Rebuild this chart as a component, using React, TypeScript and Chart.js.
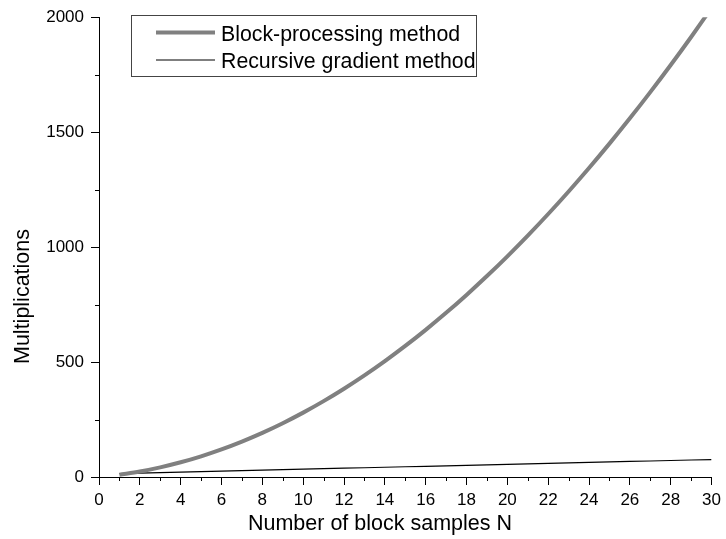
import React, { useEffect, useRef } from 'react';
import { Chart, registerables } from 'chart.js';

Chart.register(...registerables);

const samplesN = [1, 2, 3, 4, 5, 6, 7, 8, 9, 10, 11, 12, 13, 14, 15, 16, 17, 18, 19, 20, 21, 22, 23, 24, 25, 26, 27, 28, 29, 30];
const blockProcessing = [10, 24, 42, 64, 90, 120, 154, 192, 234, 280, 330, 384, 442, 504, 570, 640, 714, 792, 874, 960, 1050, 1144, 1242, 1344, 1450, 1560, 1674, 1792, 1914, 2040];
const recursiveGradient = [15.1, 17.2, 19.3, 21.4, 23.5, 25.6, 27.7, 29.8, 31.9, 34.0, 36.1, 38.2, 40.3, 42.4, 44.5, 46.6, 48.7, 50.8, 52.9, 55.0, 57.1, 59.2, 61.3, 63.4, 65.5, 67.6, 69.7, 71.8, 73.9, 76.0];
const xMinorTicks = [1, 3, 5, 7, 9, 11, 13, 15, 17, 19, 21, 23, 25, 27, 29];
const yMinorTicks = [250, 750, 1250, 1750];
const seriesLabels = ['Block-processing method', 'Recursive gradient method'];
const xTitle = 'Number of block samples N';
const yTitle = 'Multiplications';

const FONT = '"Liberation Sans", Arial, Helvetica, sans-serif';

const decorPlugin = {
  id: 'decor',
  afterDraw(chart: any) {
    const ctx = chart.ctx as CanvasRenderingContext2D;
    const xs = chart.scales.x;
    const ys = chart.scales.y;
    const area = chart.chartArea;
    ctx.save();
    // minor ticks
    ctx.strokeStyle = '#000';
    ctx.lineWidth = 1;
    ctx.beginPath();
    for (const v of xMinorTicks) {
      const px = Math.round(xs.getPixelForValue(v)) + 0.5;
      ctx.moveTo(px, area.bottom);
      ctx.lineTo(px, area.bottom + 4);
    }
    for (const v of yMinorTicks) {
      const py = Math.round(ys.getPixelForValue(v)) + 0.5;
      ctx.moveTo(area.left - 4, py);
      ctx.lineTo(area.left, py);
    }
    ctx.stroke();

    // axis titles
    ctx.fillStyle = '#000';
    ctx.font = `21.5px ${FONT}`;
    ctx.textAlign = 'center';
    ctx.textBaseline = 'alphabetic';
    ctx.fillText(xTitle, 380, 530);
    ctx.save();
    ctx.translate(29, 296.5);
    ctx.rotate(-Math.PI / 2);
    ctx.fillText(yTitle, 0, 0);
    ctx.restore();

    // legend box
    ctx.fillStyle = '#fff';
    ctx.fillRect(131, 15, 345, 62);
    ctx.strokeStyle = '#444';
    ctx.lineWidth = 1;
    ctx.strokeRect(131.5, 15.5, 345, 61);
    const lineYs = [32.5, 60];
    const textYs = [40.5, 67.5];
    chart.data.datasets.forEach((ds: any, i: number) => {
      ctx.strokeStyle = ds.borderColor;
      ctx.lineWidth = ds.borderWidth;
      ctx.lineCap = 'butt';
      ctx.beginPath();
      ctx.moveTo(156, lineYs[i]);
      ctx.lineTo(215, lineYs[i]);
      ctx.stroke();
      ctx.fillStyle = '#000';
      ctx.font = `21.3px ${FONT}`;
      ctx.textAlign = 'left';
      ctx.textBaseline = 'alphabetic';
      ctx.fillText(ds.label, 221, textYs[i]);
    });
    ctx.restore();
  },
};

export default function App() {
  const canvasRef = useRef<HTMLCanvasElement | null>(null);

  useEffect(() => {
    if (!canvasRef.current) return;
    const chart = new Chart(canvasRef.current, {
      type: 'line',
      data: {
        datasets: [
          {
            label: seriesLabels[0],
            data: samplesN.map((n, i) => ({ x: n, y: blockProcessing[i] })),
            borderColor: '#808080',
            borderWidth: 4,
            pointRadius: 0,
            cubicInterpolationMode: 'monotone',
            fill: false,
            clip: 0,
          },
          {
            label: seriesLabels[1],
            data: samplesN.map((n, i) => ({ x: n, y: recursiveGradient[i] })),
            borderColor: '#000000',
            borderWidth: 1.2,
            pointRadius: 0,
            fill: false,
            clip: 0,
          },
        ],
      },
      options: {
        responsive: false,
        animation: false,
        devicePixelRatio: 1,
        layout: { padding: { left: 10, top: 17, right: 10, bottom: 8 } },
        plugins: {
          legend: { display: false },
          tooltip: { enabled: false },
          title: { display: false },
        },
        scales: {
          x: {
            type: 'linear',
            min: 0,
            max: 30,
            afterFit(scale: any) {
              scale.height = 54;
            },
            ticks: {
              stepSize: 2,
              color: '#000',
              padding: 5,
              maxRotation: 0,
              autoSkip: false,
              font: { family: FONT, size: 17 },
              callback: (v: any) => String(v),
            },
            grid: {
              drawOnChartArea: false,
              drawTicks: true,
              tickLength: 8,
              tickColor: '#000',
              tickWidth: 1,
            },
            border: { display: true, color: '#000', width: 1 },
          },
          y: {
            type: 'linear',
            min: 0,
            max: 2000,
            afterFit(scale: any) {
              scale.width = 89;
            },
            ticks: {
              stepSize: 500,
              color: '#000',
              padding: 7,
              font: { family: FONT, size: 17 },
              callback: (v: any) => String(v),
            },
            grid: {
              drawOnChartArea: false,
              drawTicks: true,
              tickLength: 8,
              tickColor: '#000',
              tickWidth: 1,
            },
            border: { display: true, color: '#000', width: 1 },
          },
        },
      },
      plugins: [decorPlugin],
    } as any);
    return () => chart.destroy();
  }, []);

  return (
    <div style={{ position: 'fixed', left: 0, top: 0, width: 726, height: 539, background: '#fff' }}>
      <canvas ref={canvasRef} width={726} height={539} style={{ display: 'block' }} />
    </div>
  );
}
